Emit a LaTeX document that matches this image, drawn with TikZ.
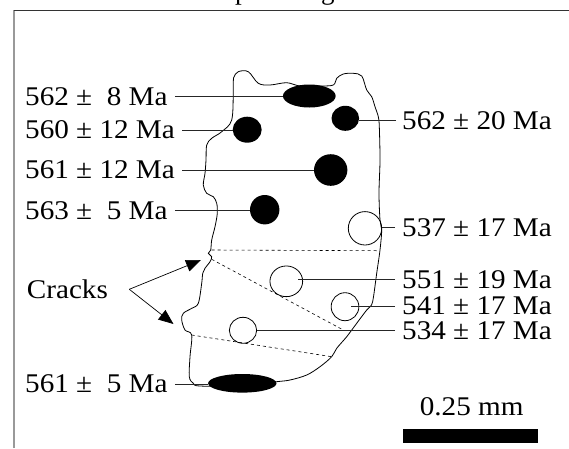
\documentclass[tikz,border=0pt]{standalone}
\usepackage{fontspec}
\usepackage{graphicx}
\setmainfont{Liberation Serif}
\usetikzlibrary{shapes.geometric,arrows.meta}
\newcommand\lbfont{\fontsize{27}{30}\selectfont}
\newcommand\wx[1]{\scalebox{1.08}[1]{#1}}
\tikzset{
  lab/.style={inner sep=0pt, font=\lbfont},
  blob/.style={ellipse, fill=black, draw=none, inner sep=0pt},
  hole/.style={ellipse, draw=black, line width=0.8pt, inner sep=0pt},
  leader/.style={line width=0.7pt, black!85},
  crack/.style={line width=0.6pt, dash pattern=on 3pt off 3pt},
  rim/.style={line width=0.8pt},
}
\begin{document}
\begin{tikzpicture}[x=1pt,y=-1pt]
\useasboundingbox (0,0) rectangle (569,448);
% clipped title glyphs (only their descenders show)
\begin{scope}
\clip (0,0) rectangle (569,448);
\node[lab, anchor=base west] (t1) at (235,-1) {p};
\node[lab, anchor=base west] (t2) at (321,-1) {g};
\end{scope}
% frame
\draw[gray!80, line width=1.4pt] (14,448) -- (14,10);
\draw[black!80, line width=0.8pt] (14,10) -- (569,10);
% grain outline
\draw[rim] plot[smooth cycle, tension=0.55] coordinates {
(233.3,90) (233.5,78) (238.3,71.7) (248.3,71.7) (258.3,83.3) (270,85) (286.7,82.7) (300,86) (320,86) (333.3,85) (336.7,78.3) (343.3,74) (353.3,73.3) (361.7,76) (366.7,90) (371.7,96.7) (375,106.7) (378.3,116.7) (379.3,126.7) (380,160) (379,193) (380,220) (381.7,230) (380,250) (376.7,273.3) (373.5,296.7) (371.5,305) (366.7,310) (356.7,323.3) (346.7,336.7) (336.7,348.3) (331.7,356.7) (320,366.7) (306.7,375) (290,380) (276.7,381.7) (242,386) (200,386) (193.3,383.3) (189.3,376.7) (190,356.7) (191.7,335) (185,330) (181.7,320) (183.3,313.3) (191.7,308.3) (198.3,303.3) (201.7,283.3) (202.7,273.3) (205,268.3) (210,261.7) (211.7,256.7) (208.3,253.3) (210.7,250) (211.7,240) (215,226.7) (217.3,213.3) (216.7,203.3) (213.3,196.7) (206.7,193.3) (203.3,185) (205,173.3) (206,160) (206.7,145) (211.7,138.3) (221.7,131.7) (231.7,120)};
% cracks (dashed)
\coordinate (k1a) at (211.7,250); \coordinate (k1b) at (378,250.7);
\coordinate (k2a) at (211.7,259.3); \coordinate (k2b) at (343.3,330);
\coordinate (k3a) at (191.7,335); \coordinate (k3b) at (331.7,356.7);
\draw[crack] (k1a) -- (k1b);
\draw[crack] (k2a) -- (k2b);
\draw[crack] (k3a) -- (k3b);
% spots
\node[blob, minimum width=52.7pt, minimum height=23pt] (e1) at (309.3,96) {};
\node[blob, minimum width=29pt, minimum height=26pt] (c2) at (247.2,129.7) {};
\node[blob, minimum width=33.4pt, minimum height=31.6pt] (c3) at (330.7,170) {};
\node[blob, minimum width=29.4pt, minimum height=29.4pt] (c4) at (264.7,209.7) {};
\node[blob, minimum width=68.4pt, minimum height=18.6pt] (e5) at (242.3,383.3) {};
\node[blob, minimum width=27.6pt, minimum height=25pt] (c6) at (345.3,118.3) {};
\node[hole, minimum width=33.4pt, minimum height=33.4pt] (o1) at (365,228.3) {};
\node[hole, minimum width=32.7pt, minimum height=30.7pt] (o2) at (286.3,281.3) {};
\node[hole, minimum width=27.7pt, minimum height=28pt] (o3) at (345,306.7) {};
\node[hole, minimum width=27.3pt, minimum height=26pt] (o4) at (243,330.3) {};
% left labels
\node[lab, anchor=west] (L1) at (25,96.5) {\wx{562 ±\ \ 8 Ma}};
\node[lab, anchor=west] (L2) at (25,130) {\wx{560 ± 12 Ma}};
\node[lab, anchor=west] (L3) at (25,170) {\wx{561 ± 12 Ma}};
\node[lab, anchor=west] (L4) at (25,210.7) {\wx{563 ±\ \ 5 Ma}};
\node[lab, anchor=west] (L5) at (25,384) {\wx{561 ±\ \ 5 Ma}};
% right labels
\node[lab, anchor=west] (R1) at (402,120.7) {\wx{562 ± 20 Ma}};
\node[lab, anchor=west] (R2) at (402,227.3) {\wx{537 ± 17 Ma}};
\node[lab, anchor=west] (R3) at (402,279.5) {\wx{551 ± 19 Ma}};
\node[lab, anchor=west] (R4) at (402,306.2) {\wx{541 ± 17 Ma}};
\node[lab, anchor=west] (R5) at (402,330.2) {\wx{534 ± 17 Ma}};
% leader lines
\draw[leader] ([xshift=7pt]L1.east) -- (L1.east -| e1.west);
\draw[leader] ([xshift=7pt]L2.east) -- (L2.east -| c2.west);
\draw[leader] ([xshift=7pt]L3.east) -- (L3.east -| c3.west);
\draw[leader] ([xshift=7pt]L4.east) -- (L4.east -| c4.west);
\draw[leader] ([xshift=7pt]L5.east) -- (L5.east -| e5.west);
\draw[leader] ([xshift=-6pt]R1.west) -- (R1.west -| c6.east);
\draw[leader] ([xshift=-7pt]R2.west) -- (R2.west -| o1.east);
\draw[leader] ([xshift=-7pt]R3.west) -- ([xshift=12pt]R3.west -| o2.center);
\draw[leader] ([xshift=-7pt]R4.west) -- ([xshift=5.7pt]R4.west -| o3.center);
\draw[leader] ([xshift=-7pt]R5.west) -- (R5.west -| o4.east);
% cracks label and arrows
\node[lab, anchor=west] (ck) at (26.7,289) {\wx{Cracks}};
\coordinate (apex) at (129.3,289.3);
\coordinate (tip1) at (201,260);
\coordinate (tip2) at (173.5,324);
\draw[line width=0.7pt, -{Triangle[length=15pt,width=12pt]}] (apex) -- (tip1);
\draw[line width=0.7pt, -{Triangle[length=15pt,width=12pt]}] (apex) -- (tip2);
% scale bar
\node[fill=black, inner sep=0pt, minimum width=135pt, minimum height=13.4pt] (bar) at (470.8,436) {};
\node[lab] (scl) at (471.7,407) {\wx{0.25 mm}};
\end{tikzpicture}
\end{document}
